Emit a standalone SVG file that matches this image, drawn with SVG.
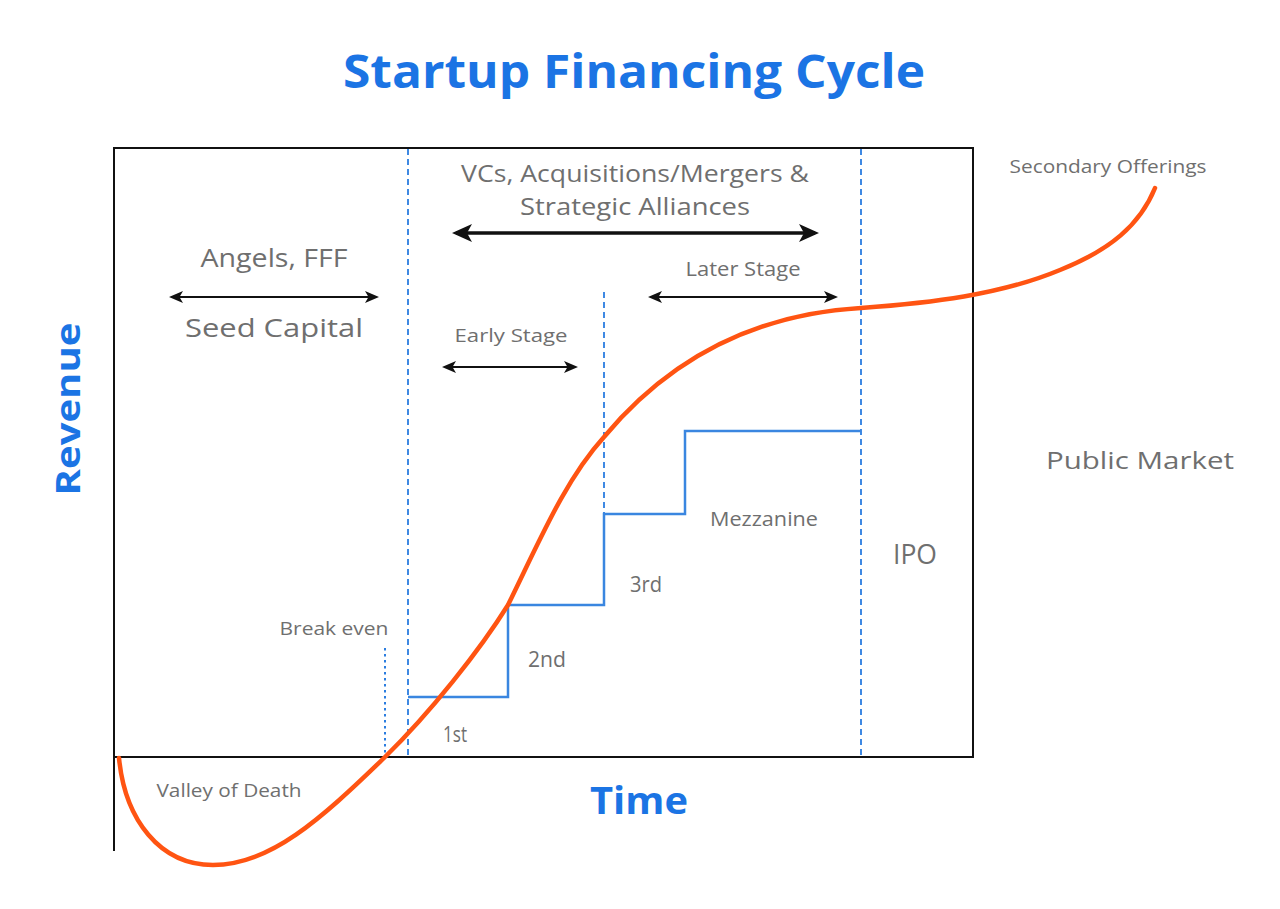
<svg xmlns="http://www.w3.org/2000/svg" width="1280" height="909" viewBox="0 0 1280 909">
  <style>
    .title { font-family: "Open Sans", "Liberation Sans", sans-serif; font-weight: 700; fill: #1b74e4; }
    .lbl { font-family: "Open Sans", "Liberation Sans", sans-serif; fill: #6f6f6f; }
    .frame { fill: none; stroke: #111; stroke-width: 2; }
    .vdash { stroke: #2b7de0; stroke-width: 1.8; stroke-dasharray: 6 4; fill: none; }
    .vdot { stroke: #2b7de0; stroke-width: 2; stroke-dasharray: 2.5 3.5; fill: none; }
    .step { stroke: #3a86e0; stroke-width: 2.5; fill: none; }
    .curve { stroke: #ff5412; stroke-width: 4.5; fill: none; stroke-linecap: round; }
    .arr { stroke: #111; stroke-width: 2; fill: none; }
    .arrL { stroke: #111; stroke-width: 3.5; fill: none; }
  </style>
  <defs>
    <marker id="ah" markerUnits="userSpaceOnUse" markerWidth="14" markerHeight="12" refX="11" refY="6" orient="auto-start-reverse">
      <path d="M0,0 L14,6 L0,12 L3.5,6 z" fill="#111"/>
    </marker>
    <marker id="ahL" markerUnits="userSpaceOnUse" markerWidth="20" markerHeight="18" refX="16" refY="9" orient="auto-start-reverse">
      <path d="M0,0 L20,9 L0,18 L5,9 z" fill="#111"/>
    </marker>
  </defs>
  <rect width="1280" height="909" fill="#ffffff"/>

  <g id="title">
    <text class="title" x="634" y="88" font-size="46" text-anchor="middle" textLength="582" lengthAdjust="spacingAndGlyphs">Startup Financing Cycle</text>
  </g>

  <g id="axes">
    <path class="frame" d="M114,851 V148 H973 V757 H114"/>
    <text class="title" transform="translate(80,409) rotate(-90)" font-size="34" text-anchor="middle" textLength="173" lengthAdjust="spacingAndGlyphs">Revenue</text>
    <text class="title" x="639" y="814" font-size="37" text-anchor="middle" textLength="98" lengthAdjust="spacingAndGlyphs">Time</text>
  </g>

  <g id="dividers">
    <line class="vdash" x1="408" y1="149" x2="408" y2="757"/>
    <line class="vdash" x1="861" y1="149" x2="861" y2="757"/>
    <line class="vdash" x1="604" y1="292" x2="604" y2="514"/>
    <line class="vdot" x1="385" y1="648" x2="385" y2="757"/>
  </g>

  <g id="steps">
    <polyline class="step" points="408,697 508,697 508,605 604,605 604,514 685,514 685,431 861,431"/>
  </g>

  <g id="connectors">
    <line class="arr" x1="172" y1="297" x2="376" y2="297" marker-start="url(#ah)" marker-end="url(#ah)"/>
    <line class="arrL" x1="456" y1="233" x2="815" y2="233" marker-start="url(#ahL)" marker-end="url(#ahL)"/>
    <line class="arr" x1="651" y1="297" x2="835" y2="297" marker-start="url(#ah)" marker-end="url(#ah)"/>
    <line class="arr" x1="445" y1="367" x2="575" y2="367" marker-start="url(#ah)" marker-end="url(#ah)"/>
  </g>

  <g id="curve">
    <path class="curve" d="M119,758 C125,820 160,865 213,865 C270,865 320,820 385,757 C430,713 480,650 508,605 C540,540 565,480 604,437 C660,370 740,315 861,308 C930,303 1000,295 1060,270 C1110,250 1140,225 1155,188"/>
  </g>

  <g id="labels">
    <text class="lbl" x="274" y="267" font-size="26" text-anchor="middle" textLength="147" lengthAdjust="spacingAndGlyphs">Angels, FFF</text>
    <text class="lbl" x="274" y="337" font-size="26" text-anchor="middle" textLength="178" lengthAdjust="spacingAndGlyphs">Seed Capital</text>
    <text class="lbl" x="635" y="182" font-size="24" text-anchor="middle" textLength="348" lengthAdjust="spacingAndGlyphs">VCs, Acquisitions/Mergers &amp;</text>
    <text class="lbl" x="635" y="215" font-size="24" text-anchor="middle" textLength="230" lengthAdjust="spacingAndGlyphs">Strategic Alliances</text>
    <text class="lbl" x="743" y="276" font-size="20" text-anchor="middle" textLength="115" lengthAdjust="spacingAndGlyphs">Later Stage</text>
    <text class="lbl" x="511" y="342" font-size="19" text-anchor="middle" textLength="113" lengthAdjust="spacingAndGlyphs">Early Stage</text>
    <text class="lbl" x="1140" y="469" font-size="23" text-anchor="middle" textLength="188" lengthAdjust="spacingAndGlyphs">Public Market</text>
    <text class="lbl" x="764" y="526" font-size="20" text-anchor="middle" textLength="108" lengthAdjust="spacingAndGlyphs">Mezzanine</text>
    <text class="lbl" x="915" y="564" font-size="27" text-anchor="middle" textLength="44" lengthAdjust="spacingAndGlyphs">IPO</text>
    <text class="lbl" x="646" y="592" font-size="21" text-anchor="middle" textLength="32" lengthAdjust="spacingAndGlyphs">3rd</text>
    <text class="lbl" x="547" y="667" font-size="21" text-anchor="middle" textLength="38" lengthAdjust="spacingAndGlyphs">2nd</text>
    <text class="lbl" x="334" y="635" font-size="18" text-anchor="middle" textLength="109" lengthAdjust="spacingAndGlyphs">Break even</text>
    <text class="lbl" x="455" y="742" font-size="21" text-anchor="middle" textLength="24" lengthAdjust="spacingAndGlyphs">1st</text>
    <text class="lbl" x="229" y="797" font-size="19" text-anchor="middle" textLength="145" lengthAdjust="spacingAndGlyphs">Valley of Death</text>
    <text class="lbl" x="1108" y="173" font-size="19" text-anchor="middle" textLength="197" lengthAdjust="spacingAndGlyphs">Secondary Offerings</text>
  </g>
</svg>
